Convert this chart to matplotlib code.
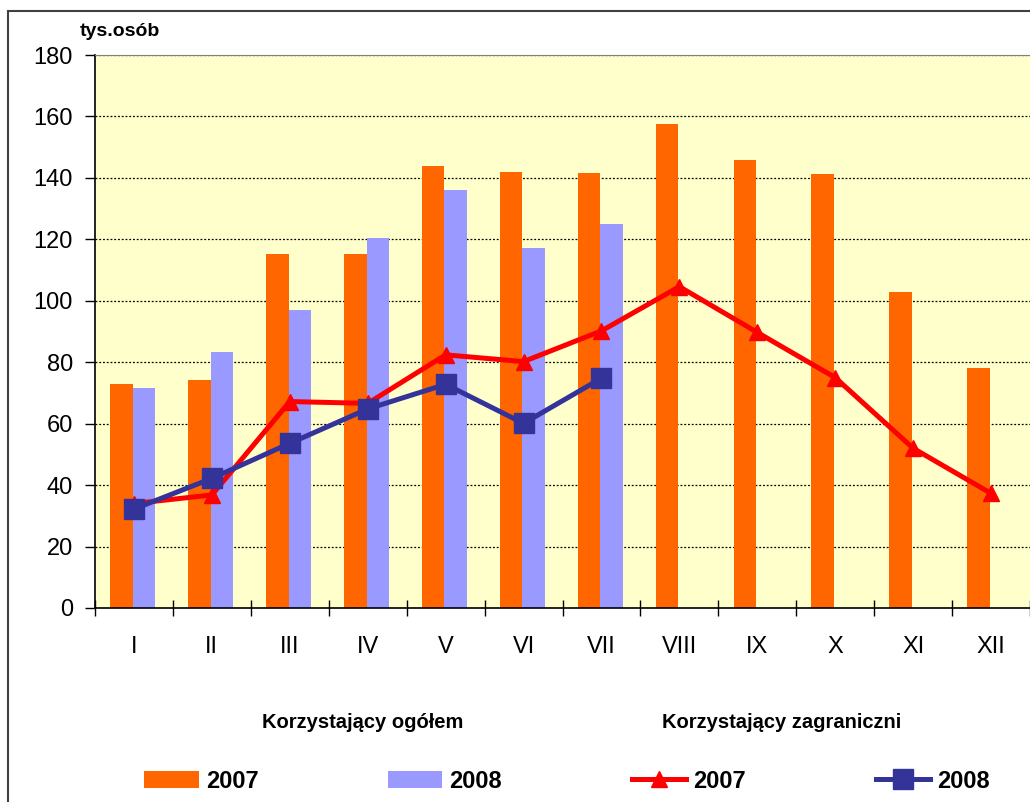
import numpy as np
import matplotlib
matplotlib.use("Agg")
import matplotlib.pyplot as plt
from matplotlib.patches import Rectangle

# dane
miesiace = ['I', 'II', 'III', 'IV', 'V', 'VI', 'VII', 'VIII', 'IX', 'X', 'XI', 'XII']
ogolem_2007 = [73, 74.2, 115.2, 115.2, 144, 142, 141.6, 157.6, 145.8, 141.3, 102.8, 78.1]
ogolem_2008 = [71.6, 83.3, 97, 120.4, 136.2, 117.2, 125]
zagr_2007 = [34, 36.8, 67.2, 66.6, 82.4, 80.2, 90.2, 104.6, 89.7, 75, 52, 37.3]
zagr_2008 = [32.2, 42.2, 53.6, 64.8, 72.8, 60.1, 74.8]

plt.rcParams['font.family'] = ['Liberation Sans', 'DejaVu Sans']

fig = plt.figure(figsize=(10.3, 8.02), dpi=100)
ax = fig.add_axes([95 / 1030, 1 - 608 / 802, 1 - 95 / 1030, (608 - 55) / 802])
ax.set_facecolor('#FFFFCC')

x = np.arange(len(miesiace))
w = 0.29
b1 = ax.bar(x - 0.16, ogolem_2007, w, color='#FF6600', label='2007', zorder=2)
b2 = ax.bar(x[:len(ogolem_2008)] + 0.13, ogolem_2008, w, color='#9999FF', label='2008', zorder=2)
l1, = ax.plot(x, zagr_2007, color='#FF0000', lw=3.6, marker='^', ms=12, label='2007', zorder=3)
l2, = ax.plot(x[:len(zagr_2008)], zagr_2008, color='#333399', lw=3.6, marker='s', ms=14,
              label='2008', zorder=4)

ax.set_xlim(-0.5, 11.46)
ax.set_ylim(0, 180)
ax.set_yticks(range(0, 181, 20))
ax.yaxis.grid(True, linestyle=(0, (1.5, 1.5)), color='black', lw=0.9, zorder=1)
ax.set_axisbelow(True)

# podzialki osi x
ax.set_xticks(np.arange(-0.5, 12, 1))
ax.set_xticklabels([])
ax.set_xticks(x, minor=True)
ax.set_xticklabels(miesiace, minor=True)
ax.tick_params(axis='x', which='major', direction='inout', length=11, width=1)
ax.tick_params(axis='x', which='minor', length=0, pad=20, labelsize=17)
ax.tick_params(axis='y', direction='out', length=7, width=1, pad=9, labelsize=17)

ax.spines['right'].set_visible(False)
ax.spines['top'].set_color('#808080')
ax.spines['left'].set_linewidth(1.2)
ax.spines['bottom'].set_linewidth(1.2)

fig.text(80 / 1030, 1 - 32 / 802, 'tys.osób', fontsize=14, fontweight='bold', va='center')
fig.text(363 / 1030, 1 - 722 / 802, 'Korzystający ogółem', fontsize=14.5, fontweight='bold',
         ha='center', va='center')
fig.text(782 / 1030, 1 - 722 / 802, 'Korzystający zagraniczni', fontsize=14.5, fontweight='bold',
         ha='center', va='center')

fig.legend([b1, b2, l1, l2], ['2007', '2008', '2007', '2008'],
           loc='center left', bbox_to_anchor=(123 / 1030, 1 - 781 / 802), ncol=4,
           frameon=False, prop={'size': 17, 'weight': 'bold'},
           handlelength=2.3, handletextpad=0.3, columnspacing=5.5, handleheight=0.7)

# ramka wykresu
fig.patches.append(Rectangle((8 / 1030, -0.1), 1.2, 1.1 - 11 / 802, transform=fig.transFigure,
                             fill=False, edgecolor='#404040', lw=1.5))

fig.savefig('out.png', dpi=100)
